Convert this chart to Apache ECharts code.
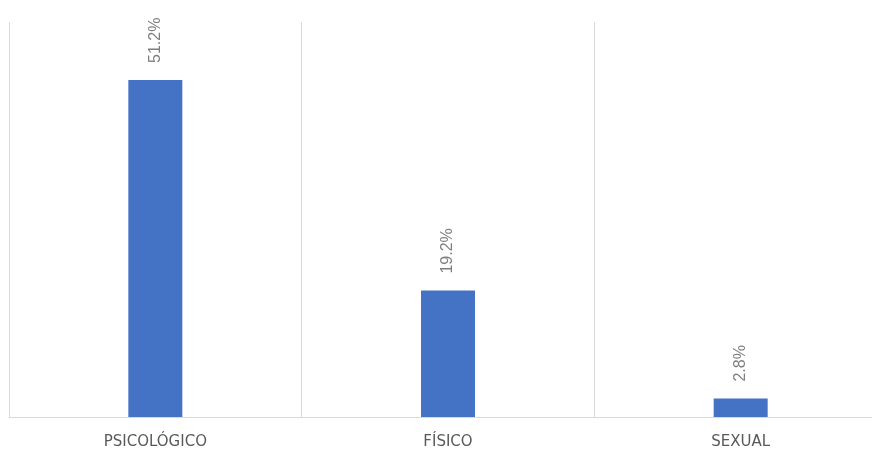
<!DOCTYPE html>
<html><head><meta charset="utf-8">
<script src="https://cdn.jsdelivr.net/npm/echarts@6/dist/echarts.min.js"></script>
<style>html,body{margin:0;padding:0;background:#fff;overflow:hidden;width:872px;height:452px}#c{width:887px;height:452px}</style>
</head><body><div id="c"></div>
<script>
const categories = ['PSICOLÓGICO', 'FÍSICO', 'SEXUAL'];
const values = [51.2, 19.2, 2.8];
const chart = echarts.init(document.getElementById('c'));
chart.setOption({
  animation: false,
  grid: { left: 9, right: 0, top: 22, bottom: 35, containLabel: false },
  xAxis: {
    type: 'category', data: categories, boundaryGap: true,
    axisLine: { lineStyle: { color: '#d9d9d9', width: 1 } },
    axisTick: { show: false },
    splitLine: { show: true, lineStyle: { color: '#d9d9d9', width: 1 } },
    axisLabel: { color: '#595959', fontFamily: 'DejaVu Sans', fontSize: 15, margin: 18 }
  },
  yAxis: { type: 'value', min: 0, max: 60, show: false, splitLine: { show: false } },
  series: [{
    type: 'bar', data: values, barWidth: 54,
    itemStyle: { color: '#4472c4' },
    label: {
      show: true, position: 'top', rotate: 90, align: 'left', verticalAlign: 'middle',
      distance: 17, color: '#7f7f7f', fontSize: 16, fontFamily: 'Liberation Sans, Arial',
      formatter: p => p.value.toFixed(1) + '%'
    }
  }]
});
</script></body></html>
